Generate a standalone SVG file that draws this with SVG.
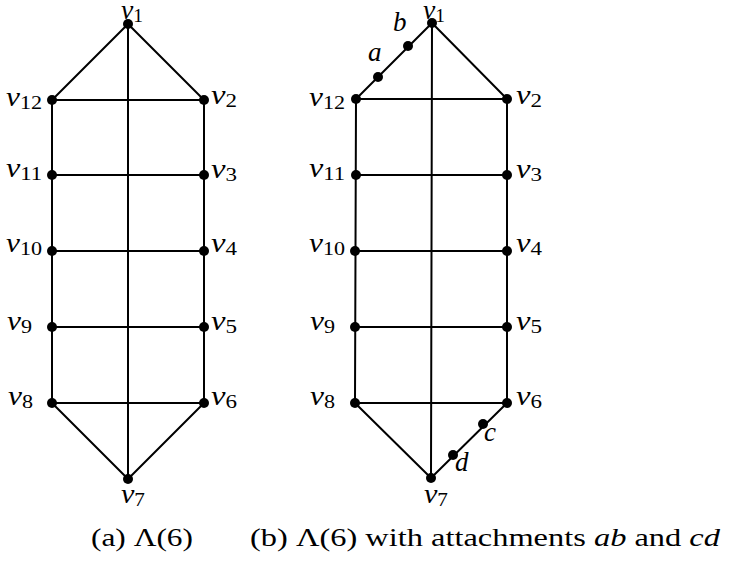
<svg xmlns="http://www.w3.org/2000/svg" width="730" height="562" viewBox="0 0 730 562">
<style>
.e{stroke:#000;stroke-width:2;fill:none}
.n{fill:#000}
.l{font-family:"Liberation Serif","Times New Roman",serif;font-style:italic;font-size:27px;fill:#000}
.s{font-style:normal;font-size:19px}
.c{font-family:"Liberation Serif","Times New Roman",serif;font-size:25px;fill:#000}
.i{font-style:italic}
</style>
<rect width="730" height="562" fill="#fff"/>
<g id="connectors">
<g id="edges-a">
<path class="e" d="M128,24 L52,100 M128,24 L204,100 M128,24 L128,479 M52,100 L52,403 M204,100 L204,403 M52,100 H204 M52,175 H204 M52,251 H204 M52,327 H204 M52,403 H204 M52,403 L128,479 M204,403 L128,479"/>
</g>
<g id="edges-b">
<path class="e" d="M432,23 L356,99 M432,23 L507,99 M432,23 L431,478 M356,99 L355,403 M507,99 L507,403 M356,99 H507 M356,175 H507 M356,251 H507 M356,327 H507 M355,403 H507 M355,403 L431,478 M507,403 L431,478"/>
</g>
</g>
<g id="a-v1"><circle class="n" cx="128" cy="24" r="5"/><text class="l" x="121" y="19" textLength="22" lengthAdjust="spacingAndGlyphs">v<tspan class="s" dy="3">1</tspan></text></g>
<g id="a-v2"><circle class="n" cx="204" cy="100" r="5"/><text class="l" x="211" y="104" textLength="26" lengthAdjust="spacingAndGlyphs">v<tspan class="s" dy="3">2</tspan></text></g>
<g id="a-v3"><circle class="n" cx="204" cy="175" r="5"/><text class="l" x="211" y="178" textLength="26" lengthAdjust="spacingAndGlyphs">v<tspan class="s" dy="3">3</tspan></text></g>
<g id="a-v4"><circle class="n" cx="204" cy="251" r="5"/><text class="l" x="211" y="252" textLength="26" lengthAdjust="spacingAndGlyphs">v<tspan class="s" dy="3">4</tspan></text></g>
<g id="a-v5"><circle class="n" cx="204" cy="327" r="5"/><text class="l" x="211" y="330" textLength="26" lengthAdjust="spacingAndGlyphs">v<tspan class="s" dy="3">5</tspan></text></g>
<g id="a-v6"><circle class="n" cx="204" cy="403" r="5"/><text class="l" x="211" y="405" textLength="26" lengthAdjust="spacingAndGlyphs">v<tspan class="s" dy="3">6</tspan></text></g>
<g id="a-v7"><circle class="n" cx="128" cy="479" r="5"/><text class="l" x="121" y="503" textLength="24" lengthAdjust="spacingAndGlyphs">v<tspan class="s" dy="3">7</tspan></text></g>
<g id="a-v8"><circle class="n" cx="52" cy="403" r="5"/><text class="l" x="8" y="405" textLength="25" lengthAdjust="spacingAndGlyphs">v<tspan class="s" dy="3">8</tspan></text></g>
<g id="a-v9"><circle class="n" cx="52" cy="327" r="5"/><text class="l" x="7" y="330" textLength="25" lengthAdjust="spacingAndGlyphs">v<tspan class="s" dy="3">9</tspan></text></g>
<g id="a-v10"><circle class="n" cx="52" cy="251" r="5"/><text class="l" x="6" y="252" textLength="36" lengthAdjust="spacingAndGlyphs">v<tspan class="s" dy="3">10</tspan></text></g>
<g id="a-v11"><circle class="n" cx="52" cy="175" r="5"/><text class="l" x="6" y="177" textLength="36" lengthAdjust="spacingAndGlyphs">v<tspan class="s" dy="3">11</tspan></text></g>
<g id="a-v12"><circle class="n" cx="52" cy="100" r="5"/><text class="l" x="6" y="106" textLength="36" lengthAdjust="spacingAndGlyphs">v<tspan class="s" dy="3">12</tspan></text></g>
<g id="b-v1"><circle class="n" cx="432" cy="23" r="5"/><text class="l" x="423" y="19" textLength="22" lengthAdjust="spacingAndGlyphs">v<tspan class="s" dy="3">1</tspan></text></g>
<g id="b-v2"><circle class="n" cx="507" cy="99" r="5"/><text class="l" x="516" y="104" textLength="26" lengthAdjust="spacingAndGlyphs">v<tspan class="s" dy="3">2</tspan></text></g>
<g id="b-v3"><circle class="n" cx="507" cy="175" r="5"/><text class="l" x="516" y="178" textLength="26" lengthAdjust="spacingAndGlyphs">v<tspan class="s" dy="3">3</tspan></text></g>
<g id="b-v4"><circle class="n" cx="507" cy="251" r="5"/><text class="l" x="516" y="252" textLength="26" lengthAdjust="spacingAndGlyphs">v<tspan class="s" dy="3">4</tspan></text></g>
<g id="b-v5"><circle class="n" cx="507" cy="327" r="5"/><text class="l" x="516" y="330" textLength="26" lengthAdjust="spacingAndGlyphs">v<tspan class="s" dy="3">5</tspan></text></g>
<g id="b-v6"><circle class="n" cx="507" cy="403" r="5"/><text class="l" x="516" y="405" textLength="26" lengthAdjust="spacingAndGlyphs">v<tspan class="s" dy="3">6</tspan></text></g>
<g id="b-v7"><circle class="n" cx="431" cy="478" r="5"/><text class="l" x="424" y="503" textLength="24" lengthAdjust="spacingAndGlyphs">v<tspan class="s" dy="3">7</tspan></text></g>
<g id="b-v8"><circle class="n" cx="355" cy="403" r="5"/><text class="l" x="310" y="405" textLength="25" lengthAdjust="spacingAndGlyphs">v<tspan class="s" dy="3">8</tspan></text></g>
<g id="b-v9"><circle class="n" cx="355" cy="327" r="5"/><text class="l" x="310" y="330" textLength="25" lengthAdjust="spacingAndGlyphs">v<tspan class="s" dy="3">9</tspan></text></g>
<g id="b-v10"><circle class="n" cx="355" cy="251" r="5"/><text class="l" x="309" y="252" textLength="36" lengthAdjust="spacingAndGlyphs">v<tspan class="s" dy="3">10</tspan></text></g>
<g id="b-v11"><circle class="n" cx="356" cy="175" r="5"/><text class="l" x="309" y="177" textLength="36" lengthAdjust="spacingAndGlyphs">v<tspan class="s" dy="3">11</tspan></text></g>
<g id="b-v12"><circle class="n" cx="356" cy="99" r="5"/><text class="l" x="309" y="106" textLength="36" lengthAdjust="spacingAndGlyphs">v<tspan class="s" dy="3">12</tspan></text></g>
<g id="b-a"><circle class="n" cx="378" cy="77" r="5"/><text class="l" x="368" y="61">a</text></g>
<g id="b-b"><circle class="n" cx="408" cy="46" r="5"/><text class="l" x="393" y="31">b</text></g>
<g id="b-c"><circle class="n" cx="483" cy="424" r="5"/><text class="l" x="484" y="441">c</text></g>
<g id="b-d"><circle class="n" cx="453" cy="455" r="5"/><text class="l" x="455" y="471">d</text></g>
<text class="c" x="91" y="546" textLength="102" lengthAdjust="spacingAndGlyphs">(a) Λ(6)</text>
<text class="c" x="250" y="546" textLength="470" lengthAdjust="spacingAndGlyphs">(b) Λ(6) with attachments <tspan class="i">ab</tspan> and <tspan class="i">cd</tspan></text>
</svg>
